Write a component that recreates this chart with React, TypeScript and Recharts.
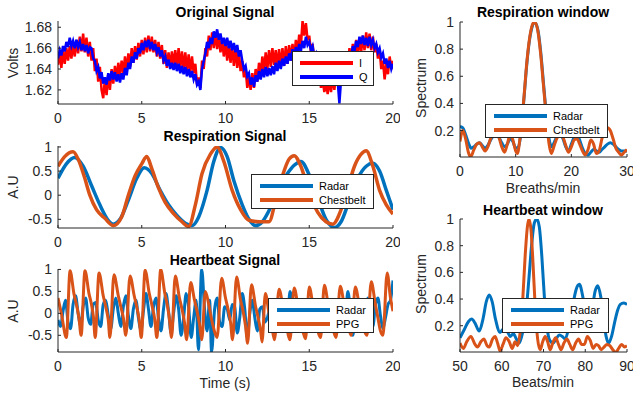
import React from "react";
import { LineChart, Line, XAxis, YAxis, Legend } from "recharts";

const FONT = '"Liberation Sans", Arial, Helvetica, sans-serif';
const AX = "#262626";
const BLUE = "#0072BD";
const ORANGE = "#D95319";

// Original signal (Volts), one value every 0.1 s from 0 to 20 s
const iVolts = [
  1.644, 1.656, 1.641, 1.658, 1.645, 1.660, 1.648, 1.662, 1.650, 1.664,
  1.652, 1.668, 1.655, 1.671, 1.657, 1.674, 1.656, 1.670, 1.652, 1.666,
  1.648, 1.660, 1.638, 1.650, 1.628, 1.642, 1.620, 1.612, 1.630, 1.615,
  1.635, 1.620, 1.640, 1.626, 1.643, 1.630, 1.646, 1.633, 1.648, 1.636,
  1.652, 1.638, 1.655, 1.642, 1.660, 1.646, 1.662, 1.649, 1.665, 1.652,
  1.668, 1.654, 1.670, 1.656, 1.672, 1.657, 1.671, 1.656, 1.668, 1.652,
  1.666, 1.650, 1.663, 1.645, 1.658, 1.641, 1.656, 1.642, 1.657, 1.643,
  1.658, 1.642, 1.660, 1.641, 1.657, 1.640, 1.656, 1.638, 1.654, 1.637,
  1.652, 1.636, 1.645, 1.625, 1.632, 1.622, 1.648, 1.640, 1.660, 1.652,
  1.672, 1.658, 1.675, 1.660, 1.674, 1.659, 1.672, 1.656, 1.668, 1.652,
  1.666, 1.648, 1.664, 1.646, 1.662, 1.643, 1.660, 1.641, 1.656, 1.638,
  1.648, 1.632, 1.640, 1.622, 1.632, 1.620, 1.636, 1.622, 1.640, 1.628,
  1.646, 1.634, 1.652, 1.638, 1.656, 1.640, 1.658, 1.642, 1.660, 1.644,
  1.658, 1.642, 1.659, 1.641, 1.660, 1.643, 1.662, 1.645, 1.663, 1.648,
  1.664, 1.650, 1.668, 1.655, 1.673, 1.662, 1.686, 1.672, 1.684, 1.668,
  1.672, 1.656, 1.664, 1.648, 1.652, 1.636, 1.640, 1.622, 1.630, 1.618,
  1.628, 1.616, 1.630, 1.618, 1.632, 1.620, 1.636, 1.624, 1.640, 1.628,
  1.646, 1.634, 1.652, 1.640, 1.660, 1.646, 1.664, 1.650, 1.668, 1.654,
  1.670, 1.656, 1.672, 1.658, 1.675, 1.660, 1.674, 1.658, 1.671, 1.656,
  1.664, 1.650, 1.658, 1.640, 1.648, 1.630, 1.645, 1.635, 1.652, 1.640,
  1.648,
];
const qVolts = [
  1.650, 1.658, 1.653, 1.662, 1.657, 1.666, 1.661, 1.670, 1.662, 1.667,
  1.660, 1.668, 1.661, 1.666, 1.658, 1.664, 1.657, 1.663, 1.655, 1.661,
  1.660, 1.650, 1.648, 1.638, 1.642, 1.631, 1.637, 1.626, 1.632, 1.625,
  1.636, 1.629, 1.638, 1.630, 1.637, 1.628, 1.635, 1.627, 1.636, 1.630,
  1.641, 1.634, 1.646, 1.640, 1.652, 1.646, 1.656, 1.650, 1.660, 1.655,
  1.665, 1.658, 1.667, 1.661, 1.668, 1.659, 1.666, 1.658, 1.664, 1.656,
  1.661, 1.652, 1.658, 1.648, 1.652, 1.643, 1.649, 1.640, 1.646, 1.639,
  1.646, 1.638, 1.645, 1.636, 1.643, 1.635, 1.642, 1.633, 1.640, 1.632,
  1.638, 1.630, 1.635, 1.625, 1.628, 1.620, 1.640, 1.648, 1.655, 1.666,
  1.660, 1.670, 1.664, 1.676, 1.670, 1.678, 1.668, 1.674, 1.664, 1.670,
  1.662, 1.670, 1.660, 1.667, 1.658, 1.665, 1.656, 1.663, 1.652, 1.658,
  1.648, 1.640, 1.643, 1.633, 1.636, 1.625, 1.632, 1.623, 1.634, 1.628,
  1.638, 1.630, 1.640, 1.632, 1.642, 1.633, 1.641, 1.634, 1.643, 1.635,
  1.646, 1.638, 1.648, 1.640, 1.650, 1.643, 1.652, 1.645, 1.655, 1.648,
  1.659, 1.651, 1.661, 1.654, 1.664, 1.657, 1.667, 1.660, 1.671, 1.663,
  1.666, 1.658, 1.662, 1.652, 1.655, 1.645, 1.648, 1.638, 1.642, 1.632,
  1.638, 1.630, 1.636, 1.628, 1.635, 1.627, 1.634, 1.628, 1.607, 1.630,
  1.642, 1.638, 1.648, 1.645, 1.655, 1.650, 1.662, 1.657, 1.667, 1.661,
  1.671, 1.664, 1.672, 1.663, 1.670, 1.662, 1.671, 1.663, 1.668, 1.660,
  1.664, 1.656, 1.660, 1.651, 1.655, 1.645, 1.650, 1.641, 1.648, 1.640,
  1.645,
];

// Respiration signal [time s, A.U]
const respRadar: [number, number][] = [
  [0, 0.35], [0.5, 0.65], [1.0, 0.78], [1.5, 0.6], [2.0, 0.2], [2.5, -0.2],
  [3.0, -0.52], [3.3, -0.6], [3.7, -0.5], [4.2, -0.1], [4.7, 0.35], [5.15, 0.57],
  [5.6, 0.45], [6.1, 0.1], [6.6, -0.2], [7.1, -0.42], [7.6, -0.58], [8.0, -0.63],
  [8.4, -0.45], [8.9, 0.1], [9.3, 0.7], [9.7, 0.99], [10.1, 0.8], [10.5, 0.3],
  [11.0, -0.2], [11.4, -0.5], [11.8, -0.63], [12.2, -0.55], [12.7, -0.25], [13.2, 0.15],
  [13.7, 0.45], [14.1, 0.62], [14.5, 0.7], [15.0, 0.42], [15.5, -0.05], [16.0, -0.5],
  [16.5, -0.67], [16.9, -0.55], [17.4, -0.1], [17.9, 0.35], [18.4, 0.6], [18.8, 0.66],
  [19.2, 0.5], [19.6, 0.1], [20, -0.3],
];
const respBelt: [number, number][] = [
  [0, 0.6], [0.4, 0.8], [0.9, 0.9], [1.2, 0.75], [1.6, 0.35], [1.9, 0.0],
  [2.3, -0.3], [2.8, -0.48], [3.3, -0.63], [3.8, -0.45], [4.2, 0.0], [4.6, 0.4],
  [5.0, 0.65], [5.3, 0.8], [5.6, 0.55], [6.0, 0.15], [6.4, -0.15], [6.9, -0.38],
  [7.4, -0.55], [7.8, -0.65], [8.2, -0.2], [8.6, 0.45], [9.1, 0.85], [9.5, 1.0],
  [9.9, 0.7], [10.4, 0.1], [10.9, -0.3], [11.4, -0.52], [12.0, -0.55], [12.6, -0.55],
  [13.0, -0.1], [13.4, 0.4], [13.8, 0.75], [14.1, 0.82], [14.5, 0.6], [15.0, 0.05],
  [15.5, -0.35], [16.0, -0.55], [16.4, -0.6], [16.9, -0.3], [17.3, 0.15], [17.7, 0.6],
  [18.1, 0.85], [18.4, 0.92], [18.8, 0.6], [19.2, 0.1], [19.6, -0.2], [20, -0.39],
];

// Heartbeat signal [time s, A.U]
const heartRadar: [number, number][] = [
  [0.0, -0.15], [0.15, -0.3], [0.3, 0.05], [0.45, 0.3], [0.6, -0.2], [0.75, -0.35],
  [0.9, 0.2], [1.05, 0.4], [1.2, 0.0], [1.35, -0.3], [1.5, 0.15], [1.65, 0.35],
  [1.8, -0.1], [1.95, -0.25], [2.1, 0.2], [2.25, 0.25], [2.4, -0.15], [2.55, -0.3],
  [2.7, 0.2], [2.85, 0.3], [3.0, -0.05], [3.15, -0.35], [3.3, 0.1], [3.45, 0.35],
  [3.6, 0.0], [3.75, -0.3], [3.9, 0.15], [4.05, 0.4], [4.2, -0.05], [4.35, -0.35],
  [4.5, 0.1], [4.65, 0.3], [4.8, -0.1], [4.95, -0.4], [5.1, 0.05], [5.25, 0.45],
  [5.4, 0.1], [5.55, -0.3], [5.7, 0.15], [5.85, 0.35], [6.0, -0.1], [6.15, -0.4],
  [6.3, 0.1], [6.45, 0.45], [6.6, 0.05], [6.75, -0.45], [6.9, 0.0], [7.05, 0.4],
  [7.2, 0.1], [7.35, -0.5], [7.5, -0.1], [7.65, 0.45], [7.8, 0.15], [7.95, -0.55],
  [8.1, -0.1], [8.25, 0.3], [8.38, -0.83], [8.58, 1.0], [8.75, 0.1], [8.9, -0.4],
  [9.05, 0.3], [9.17, -0.88], [9.35, 0.1], [9.5, 0.35], [9.65, -0.2], [9.8, -0.3],
  [9.95, 0.15], [10.1, 0.1], [10.25, -0.15], [10.4, 0.2], [10.55, 0.15], [10.7, -0.45],
  [10.85, -0.1], [11.0, 0.45], [11.15, 0.1], [11.3, -0.55], [11.45, 0.0], [11.6, 0.3],
  [11.75, -0.1], [11.9, -0.4], [12.05, 0.1], [12.2, 0.15], [12.35, -0.2], [12.5, -0.1],
  [12.65, 0.1], [12.8, -0.1], [12.95, 0.0], [13.1, 0.15], [13.25, -0.15], [13.4, 0.05],
  [13.55, 0.1], [13.7, -0.2], [13.85, 0.5], [14.0, 0.3], [14.15, -0.1], [14.3, 0.1],
  [14.45, 0.0], [14.6, -0.3], [14.75, -0.1], [14.9, 0.2], [15.05, -0.2], [15.2, 0.1],
  [15.35, 0.2], [15.5, -0.25], [15.65, 0.0], [15.8, 0.3], [15.95, -0.1], [16.1, -0.3],
  [16.25, 0.1], [16.4, 0.25], [16.55, -0.2], [16.7, -0.35], [16.85, 0.1], [17.0, 0.2],
  [17.15, -0.2], [17.3, 0.5], [17.45, 0.1], [17.6, -0.5], [17.75, 0.0], [17.9, 0.3],
  [18.05, 0.05], [18.2, -0.3], [18.35, 0.1], [18.5, 0.35], [18.65, -0.1], [18.8, -0.3],
  [18.95, 0.2], [19.1, 0.35], [19.25, -0.05], [19.4, -0.35], [19.55, -0.1], [19.7, 0.2],
  [19.85, 0.3], [20.0, 0.75],
];
const heartPpg: [number, number][] = [
  [0.0, 0.35], [0.2, 0.0], [0.5, -0.55], [0.72, 0.97], [0.95, 0.45], [1.1, 0.2],
  [1.25, -0.1], [1.38, -0.5], [1.61, 0.97], [1.85, 0.45], [2.0, 0.2], [2.12, -0.1],
  [2.22, -0.55], [2.45, 0.92], [2.7, 0.4], [2.85, 0.15], [3.0, -0.15], [3.1, -0.55],
  [3.34, 0.88], [3.6, 0.4], [3.75, 0.15], [3.9, -0.1], [4.05, -0.5], [4.3, 0.85],
  [4.55, 0.4], [4.7, 0.15], [4.85, -0.15], [4.97, -0.55], [5.2, 0.98], [5.45, 0.45],
  [5.6, 0.2], [5.78, -0.15], [5.9, -0.55], [6.13, 1.0], [6.38, 0.45], [6.52, 0.2],
  [6.66, -0.15], [6.78, -0.55], [7.0, 0.85], [7.25, 0.35], [7.4, 0.1], [7.55, -0.2],
  [7.68, -0.6], [7.92, 0.7], [8.15, 0.3], [8.3, 0.05], [8.45, -0.25], [8.58, -0.6],
  [8.8, 0.5], [9.0, 0.2], [9.15, -0.1], [9.3, -0.35], [9.5, -0.55], [9.77, 0.8],
  [10.0, 0.35], [10.15, 0.1], [10.3, -0.2], [10.42, -0.6], [10.66, 0.83], [10.9, 0.3],
  [11.05, 0.05], [11.2, -0.3], [11.32, -0.68], [11.55, 0.65], [11.8, 0.15], [11.95, -0.1],
  [12.1, -0.4], [12.18, -0.65], [12.38, 0.45], [12.6, 0.0], [12.75, -0.25], [12.92, -0.6],
  [13.2, 0.55], [13.45, 0.1], [13.6, -0.15], [13.75, -0.5], [13.85, -0.6], [14.1, 0.58],
  [14.35, 0.1], [14.5, -0.15], [14.65, -0.45], [14.78, -0.58], [15.0, 0.6], [15.25, 0.1],
  [15.4, -0.15], [15.55, -0.45], [15.68, -0.55], [15.9, 0.64], [16.15, 0.15], [16.3, -0.1],
  [16.45, -0.4], [16.6, -0.55], [16.85, 0.62], [17.1, 0.15], [17.25, -0.1], [17.4, -0.4],
  [17.5, -0.5], [17.75, 0.6], [18.0, 0.15], [18.15, -0.1], [18.3, -0.4], [18.45, -0.5],
  [18.7, 0.72], [18.95, 0.2], [19.1, -0.1], [19.25, -0.4], [19.4, -0.5], [19.65, 0.92],
  [19.85, 0.35], [20.0, 0.05],
];

// Respiration window spectrum [breaths/min, spectrum]
const respSpecRadar: [number, number][] = [
  [0, 0.23], [0.5, 0.22], [1, 0.17], [1.5, 0.11], [2, 0.07], [2.5, 0.08], [3, 0.1],
  [3.5, 0.11], [4, 0.09], [4.5, 0.07], [5, 0.09], [5.5, 0.13], [6, 0.16], [6.5, 0.17],
  [7, 0.15], [7.5, 0.11], [8, 0.08], [8.5, 0.1], [9, 0.14], [9.5, 0.12], [10, 0.07],
  [10.5, 0.08], [11, 0.2], [11.5, 0.44], [12, 0.69], [12.5, 0.87], [13, 0.97], [13.4, 1.0],
  [14, 0.94], [14.5, 0.78], [15, 0.55], [15.5, 0.32], [16, 0.14], [16.5, 0.08], [17, 0.12],
  [17.5, 0.16], [18, 0.17], [18.5, 0.14], [19, 0.08], [19.5, 0.05], [20, 0.1], [20.5, 0.15],
  [21, 0.17], [21.5, 0.13], [22, 0.07], [22.5, 0.03], [23, 0.02], [23.5, 0.04], [24, 0.06],
  [24.5, 0.05], [25, 0.04], [25.5, 0.06], [26, 0.08], [26.5, 0.1], [27, 0.11], [27.5, 0.1],
  [28, 0.08], [28.5, 0.06], [29, 0.05], [29.5, 0.05], [30, 0.05],
];
const respSpecBelt: [number, number][] = [
  [0, 0.12], [0.5, 0.2], [1, 0.14], [1.5, 0.04], [1.9, 0.005], [2.5, 0.06], [3, 0.1],
  [3.5, 0.11], [4, 0.08], [4.5, 0.05], [5, 0.08], [5.5, 0.14], [6, 0.18], [6.5, 0.19],
  [7, 0.15], [7.5, 0.08], [8, 0.04], [8.5, 0.1], [9, 0.17], [9.5, 0.13], [10, 0.05],
  [10.3, 0.03], [10.8, 0.15], [11.5, 0.45], [12, 0.7], [12.5, 0.88], [13, 0.98], [13.4, 1.0],
  [14, 0.93], [14.5, 0.76], [15, 0.53], [15.5, 0.3], [16, 0.1], [16.4, 0.03], [17, 0.1],
  [17.5, 0.15], [18, 0.17], [18.5, 0.15], [19, 0.09], [19.5, 0.04], [20, 0.08], [20.5, 0.13],
  [21, 0.14], [21.5, 0.1], [22, 0.05], [22.5, 0.02], [23, 0.06], [23.5, 0.13], [24, 0.1],
  [24.5, 0.03], [25, 0.05], [25.5, 0.14], [26, 0.2], [26.5, 0.22], [27, 0.2], [27.5, 0.14],
  [28, 0.07], [28.5, 0.04], [29, 0.02], [29.5, 0.04], [30, 0.06],
];

// Heartbeat window spectrum [beats/min, spectrum]
const heartSpecRadar: [number, number][] = [
  [50, 0.11], [51, 0.17], [52, 0.23], [52.8, 0.25], [53.6, 0.22], [54.6, 0.16], [55.5, 0.25],
  [56.3, 0.38], [57, 0.43], [57.7, 0.38], [58.5, 0.25], [59.6, 0.15], [60.5, 0.18], [61.3, 0.16],
  [62, 0.12], [62.8, 0.14], [63.5, 0.1], [64.2, 0.07], [65, 0.15], [65.8, 0.3], [66.5, 0.55],
  [67.2, 0.82], [67.8, 0.97], [68.4, 1.0], [69, 0.94], [69.6, 0.72], [70.2, 0.42], [70.8, 0.2],
  [71.5, 0.09], [72.3, 0.07], [73, 0.1], [73.8, 0.13], [74.5, 0.12], [75.2, 0.1], [76, 0.18],
  [77, 0.35], [77.8, 0.47], [78.6, 0.51], [79.4, 0.42], [80.2, 0.25], [80.9, 0.2], [81.6, 0.3],
  [82.3, 0.45], [83, 0.5], [83.7, 0.42], [84.4, 0.25], [85, 0.12], [85.6, 0.07], [86.3, 0.12],
  [87, 0.22], [87.7, 0.31], [88.4, 0.36], [89.2, 0.37], [90, 0.36],
];
const heartSpecPpg: [number, number][] = [
  [50, 0.07], [50.8, 0.03], [51.6, 0.08], [52.6, 0.12], [53.6, 0.06], [54.2, 0.04], [55, 0.08],
  [55.7, 0.1], [56.5, 0.05], [57, 0.04], [57.8, 0.1], [58.4, 0.12], [59, 0.07], [59.6, 0.01],
  [60.3, 0.06], [61, 0.11], [61.8, 0.08], [62.5, 0.03], [63.2, 0.08], [63.8, 0.05], [64.4, 0.15],
  [65, 0.38], [65.6, 0.72], [66.1, 0.93], [66.5, 1.0], [67, 0.92], [67.5, 0.66], [68, 0.35],
  [68.6, 0.1], [69.2, 0.02], [69.8, 0.08], [70.4, 0.12], [71, 0.08], [71.6, 0.02], [72.2, 0.07],
  [72.9, 0.11], [73.6, 0.06], [74.2, 0.02], [74.9, 0.07], [75.6, 0.1], [76.3, 0.06], [77, 0.02],
  [77.7, 0.07], [78.4, 0.1], [79.1, 0.06], [79.8, 0.06], [80.5, 0.12], [81.2, 0.09], [81.9, 0.03],
  [82.6, 0.06], [83.2, 0.05], [83.8, 0.02], [84.5, 0.04], [85.2, 0.06], [85.9, 0.05], [86.6, 0.02],
  [87.3, 0.0], [88, 0.03], [88.7, 0.06], [89.4, 0.04], [90, 0.05],
];

const timeTicks = [0, 5, 10, 15, 20];
const voltTicks = [1.62, 1.64, 1.66, 1.68];
const auTicks = [-0.5, 0, 0.5, 1];
const specTicks = [0.2, 0.4, 0.6, 0.8, 1];
const breathTicks = [0, 10, 20, 30];
const beatTicks = [50, 60, 70, 80, 90];

type Pt = { t: number; v: number };
const pairs = (arr: [number, number][]): Pt[] => arr.map(([t, v]) => ({ t, v }));
const sampled = (arr: number[]): Pt[] => arr.map((v, i) => ({ t: i / 10, v }));

type Series = { name: string; color: string; data: Pt[]; width: number; curve: "linear" | "monotone" };
type LegendBox = { x: number; y: number; w: number; h: number; lineX: number };

const tickStyle = { fill: AX, fontSize: 14, fontFamily: FONT };
const X_AXIS_H = 28;

function LegendContent({ box, series }: { box: LegendBox; series: Series[] }) {
  return (
    <div
      style={{
        width: box.w,
        height: box.h,
        boxSizing: "border-box",
        background: "#fff",
        border: `1px solid ${AX}`,
        paddingTop: 4,
        fontFamily: FONT,
        fontSize: 11,
        color: "#000",
        textAlign: "left",
      }}
    >
      {series.map((s) => (
        <div key={s.name} style={{ display: "flex", alignItems: "center", height: 14 }}>
          <span style={{ display: "inline-block", marginLeft: box.lineX, width: 53, height: 4, background: s.color }} />
          <span style={{ marginLeft: 6, lineHeight: "14px" }}>{s.name}</span>
        </div>
      ))}
    </div>
  );
}

type PanelProps = {
  left: number;
  top: number;
  width: number;
  plotHeight: number;
  margin: { top: number; right: number; bottom: number; left: number };
  xDomain: [number, number];
  xTicks: number[];
  yDomain: [number, number];
  yTicks: number[];
  yFmt?: (v: number) => string;
  series: Series[];
  legend: LegendBox;
};

function Panel(p: PanelProps) {
  const height = p.margin.top + p.plotHeight + X_AXIS_H;
  return (
    <div style={{ position: "absolute", left: p.left, top: p.top }}>
      <LineChart width={p.width} height={height} margin={p.margin}>
        <XAxis
          dataKey="t"
          type="number"
          domain={p.xDomain}
          ticks={p.xTicks}
          interval={0}
          allowDataOverflow
          height={X_AXIS_H}
          tickSize={-3}
          tickMargin={12.5}
          stroke={AX}
          tick={tickStyle}
        />
        <XAxis
          xAxisId="top"
          orientation="top"
          dataKey="t"
          type="number"
          domain={p.xDomain}
          ticks={p.xTicks}
          interval={0}
          allowDataOverflow
          height={0}
          tickSize={-3}
          stroke={AX}
          tick={false}
        />
        <YAxis
          type="number"
          domain={p.yDomain}
          ticks={p.yTicks}
          interval={0}
          allowDataOverflow
          width={50}
          tickSize={-3}
          tickMargin={9}
          stroke={AX}
          tick={tickStyle}
          tickFormatter={p.yFmt}
        />
        <YAxis
          yAxisId="right"
          orientation="right"
          type="number"
          domain={p.yDomain}
          ticks={p.yTicks}
          interval={0}
          allowDataOverflow
          width={0}
          tickSize={-3}
          stroke={AX}
          tick={false}
        />
        {p.series.map((s) => (
          <Line
            key={s.name}
            data={s.data}
            dataKey="v"
            type={s.curve}
            stroke={s.color}
            strokeWidth={s.width}
            dot={false}
            isAnimationActive={false}
          />
        ))}
        <Legend
          layout="vertical"
          align="center"
          verticalAlign="middle"
          wrapperStyle={{ left: p.legend.x - p.left, top: p.legend.y - p.top, width: p.legend.w, height: p.legend.h }}
          content={() => <LegendContent box={p.legend} series={p.series} />}
        />
      </LineChart>
    </div>
  );
}

function Txt({ x, y, text, bold, rotate }: { x: number; y: number; text: string; bold?: boolean; rotate?: boolean }) {
  return (
    <div
      style={{
        position: "absolute",
        left: x,
        top: y,
        transform: `translate(-50%, -50%)${rotate ? " rotate(-90deg)" : ""}`,
        fontFamily: FONT,
        fontSize: 14,
        fontWeight: bold ? "bold" : "normal",
        color: bold ? "#000" : AX,
        whiteSpace: "nowrap",
        lineHeight: "16px",
      }}
    >
      {text}
    </div>
  );
}

const leftMargin = (top: number) => ({ top, right: 7, bottom: 0, left: 8 });
const rightMargin = (top: number) => ({ top, right: 6, bottom: 0, left: 10 });

export default function App() {
  return (
    <div style={{ position: "fixed", left: 0, top: 0, width: 633, height: 396, background: "#fff", overflow: "hidden" }}>
      <Panel
        left={0}
        top={0}
        width={400}
        plotHeight={83}
        margin={leftMargin(21)}
        xDomain={[0, 20]}
        xTicks={timeTicks}
        yDomain={[1.6065, 1.686]}
        yTicks={voltTicks}
        yFmt={(v) => v.toFixed(2)}
        series={[
          { name: "I", color: "#FF0000", data: sampled(iVolts), width: 2.5, curve: "linear" },
          { name: "Q", color: "#0000FF", data: sampled(qVolts), width: 2.5, curve: "linear" },
        ]}
        legend={{ x: 292, y: 51, w: 82, h: 35, lineX: 7 }}
      />
      <Panel
        left={0}
        top={125}
        width={400}
        plotHeight={82}
        margin={leftMargin(21)}
        xDomain={[0, 20]}
        xTicks={timeTicks}
        yDomain={[-0.68, 1.02]}
        yTicks={auTicks}
        series={[
          { name: "Radar", color: BLUE, data: pairs(respRadar), width: 3.5, curve: "monotone" },
          { name: "Chestbelt", color: ORANGE, data: pairs(respBelt), width: 3.5, curve: "monotone" },
        ]}
        legend={{ x: 251, y: 174, w: 123, h: 35, lineX: 8 }}
      />
      <Panel
        left={0}
        top={248}
        width={400}
        plotHeight={83}
        margin={leftMargin(21)}
        xDomain={[0, 20]}
        xTicks={timeTicks}
        yDomain={[-0.88, 1.01]}
        yTicks={auTicks}
        series={[
          { name: "Radar", color: BLUE, data: pairs(heartRadar), width: 3, curve: "monotone" },
          { name: "PPG", color: ORANGE, data: pairs(heartPpg), width: 3, curve: "monotone" },
        ]}
        legend={{ x: 268, y: 298, w: 106, h: 35, lineX: 8 }}
      />
      <Panel
        left={400}
        top={0}
        width={233}
        plotHeight={135}
        margin={rightMargin(22)}
        xDomain={[0, 30]}
        xTicks={breathTicks}
        yDomain={[0.005, 1]}
        yTicks={specTicks}
        series={[
          { name: "Radar", color: BLUE, data: pairs(respSpecRadar), width: 3, curve: "monotone" },
          { name: "Chestbelt", color: ORANGE, data: pairs(respSpecBelt), width: 3, curve: "monotone" },
        ]}
        legend={{ x: 485, y: 104, w: 123, h: 34, lineX: 8 }}
      />
      <Panel
        left={400}
        top={197}
        width={233}
        plotHeight={133}
        margin={rightMargin(22)}
        xDomain={[50, 90]}
        xTicks={beatTicks}
        yDomain={[0.003, 1]}
        yTicks={specTicks}
        series={[
          { name: "Radar", color: BLUE, data: pairs(heartSpecRadar), width: 3, curve: "monotone" },
          { name: "PPG", color: ORANGE, data: pairs(heartSpecPpg), width: 3, curve: "monotone" },
        ]}
        legend={{ x: 502, y: 298, w: 107, h: 35, lineX: 8 }}
      />

      <Txt x={225} y={12} text="Original Signal" bold />
      <Txt x={225} y={136} text="Respiration Signal" bold />
      <Txt x={225} y={260} text="Heartbeat Signal" bold />
      <Txt x={543} y={12} text="Respiration window" bold />
      <Txt x={543} y={210} text="Heartbeat window" bold />

      <Txt x={13} y={63} text="Volts" rotate />
      <Txt x={13} y={187} text="A.U" rotate />
      <Txt x={13} y={311} text="A.U" rotate />
      <Txt x={421} y={88} text="Spectrum" rotate />
      <Txt x={421} y={284} text="Spectrum" rotate />

      <Txt x={225} y={383} text="Time (s)" />
      <Txt x={543} y={188} text="Breaths/min" />
      <Txt x={543} y={382} text="Beats/min" />
    </div>
  );
}
